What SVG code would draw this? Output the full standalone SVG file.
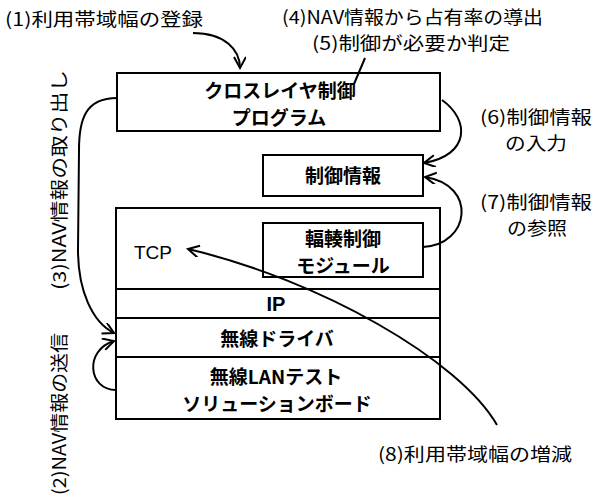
<svg xmlns="http://www.w3.org/2000/svg" width="595" height="497" viewBox="0 0 595 497">
<style>
.box{fill:#fff;stroke:#000;stroke-width:2}
.lbl{font-family:"Noto Sans CJK JP","Noto Sans CJK SC",sans-serif;font-size:18px;fill:#000}
.nt{font-family:"Noto Sans CJK JP","Noto Sans CJK SC",sans-serif;font-size:19px;font-weight:bold;text-anchor:middle;fill:#000}
.tcp{font-family:"Liberation Sans",Arial,sans-serif;font-size:19px;fill:#000}
.ip{font-family:"Liberation Sans",Arial,sans-serif;font-size:20px;font-weight:bold;text-anchor:middle;fill:#000}
.con{fill:none;stroke:#000;stroke-width:2}
</style>
<defs>
<marker id="ah" markerWidth="14" markerHeight="14" refX="12" refY="6" orient="auto" markerUnits="userSpaceOnUse">
<path d="M1,0 L12,6 L1,12" fill="none" stroke="#000" stroke-width="2"/>
</marker>
</defs>
<rect width="595" height="497" fill="#fff"/>

<g id="crosslayer">
<rect class="box" x="117" y="73" width="323" height="58"/>
<text class="nt" x="280" y="98">クロスレイヤ制御</text>
<text class="nt" x="279" y="125">プログラム</text>
</g>
<g id="ctrlinfo">
<rect class="box" x="263" y="155" width="160" height="41"/>
<text class="nt" x="343" y="183">制御情報</text>
</g>
<g id="tcp">
<rect class="box" x="116" y="208" width="324" height="81"/>
<text class="tcp" x="134" y="259">TCP</text>
</g>
<g id="module">
<rect class="box" x="263" y="223" width="160" height="54"/>
<text class="nt" x="343" y="246">輻輳制御</text>
<text class="nt" x="343" y="273">モジュール</text>
</g>
<g id="ip">
<rect class="box" x="116" y="289" width="324" height="29"/>
<text class="ip" x="276" y="311">IP</text>
</g>
<g id="driver">
<rect class="box" x="116" y="318" width="324" height="39"/>
<text class="nt" x="277" y="346">無線ドライバ</text>
</g>
<g id="board">
<rect class="box" x="116" y="357" width="324" height="62"/>
<text class="nt" x="276" y="384">無線LANテスト</text>
<text class="nt" x="277" y="411">ソリューションボード</text>
</g>

<g id="connectors">
<path class="con" d="M193,33 C225,33 240,50 240,68" marker-end="url(#ah)"/>
<line class="con" x1="365" y1="58" x2="354" y2="84"/>
<path class="con" d="M442,100 C470,120 470,155 424,163" marker-end="url(#ah)"/>
<path class="con" d="M423,247 C470,245 478,185 425,177" marker-end="url(#ah)"/>
<path class="con" d="M117,98 C85,98 79,120 79,150 L78,250 C78,290 92,322 114,333" marker-end="url(#ah)"/>
<path class="con" d="M116,390 C88,390 84,350 114,341" marker-end="url(#ah)"/>
<path class="con" d="M497,425 C460,360 320,280 188,249" marker-end="url(#ah)"/>
</g>

<g id="labels">
<text class="lbl" x="5" y="26" textLength="198" lengthAdjust="spacingAndGlyphs">(1)利用帯域幅の登録</text>
<text class="lbl" x="282" y="24" textLength="261" lengthAdjust="spacingAndGlyphs">(4)NAV情報から占有率の導出</text>
<text class="lbl" x="312" y="50" textLength="198" lengthAdjust="spacingAndGlyphs">(5)制御が必要か判定</text>
<text class="lbl" x="480" y="124" textLength="112" lengthAdjust="spacingAndGlyphs">(6)制御情報</text>
<text class="lbl" x="505" y="150" textLength="62" lengthAdjust="spacingAndGlyphs">の入力</text>
<text class="lbl" x="480" y="209" textLength="112" lengthAdjust="spacingAndGlyphs">(7)制御情報</text>
<text class="lbl" x="507" y="235" textLength="60" lengthAdjust="spacingAndGlyphs">の参照</text>
<text class="lbl" x="378" y="461" textLength="194" lengthAdjust="spacingAndGlyphs">(8)利用帯域幅の増減</text>
<text class="lbl" transform="translate(66,290) rotate(-90)" textLength="220" lengthAdjust="spacingAndGlyphs">(3)NAV情報の取り出し</text>
<text class="lbl" transform="translate(66,495) rotate(-90)" textLength="162" lengthAdjust="spacingAndGlyphs">(2)NAV情報の送信</text>
</g>
</svg>
